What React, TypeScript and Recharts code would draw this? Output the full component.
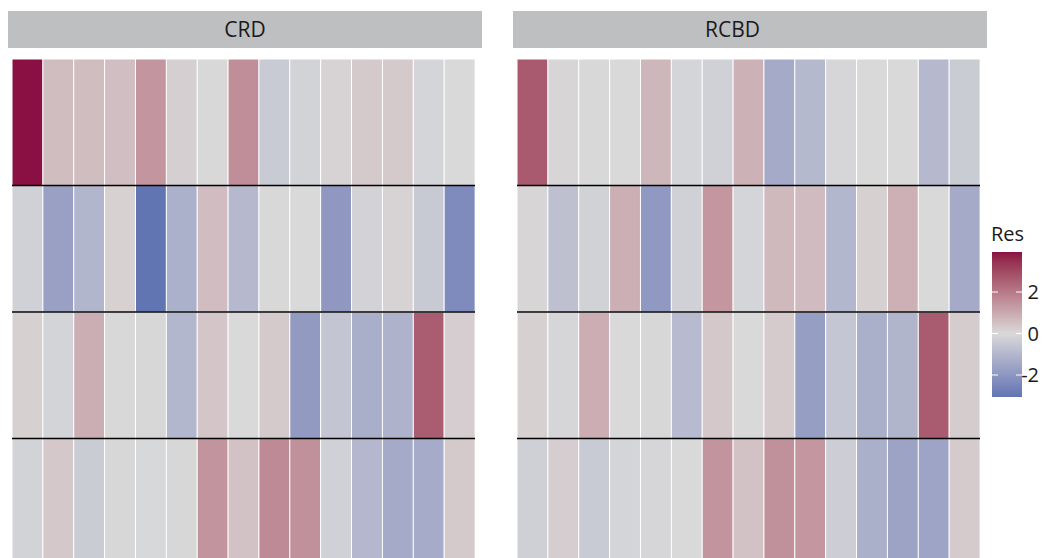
import React from "react";
import { BarChart, Bar, XAxis, YAxis, Cell, ReferenceLine } from "recharts";

// ---- data ----
const columns = ["1", "2", "3", "4", "5", "6", "7", "8", "9", "10", "11", "12", "13", "14", "15"];
const panels = ["CRD", "RCBD"];

const crdRow1 = [3.93, 0.59, 0.59, 0.55, 1.41, 0.2, 0.02, 1.57, -0.45, -0.18, 0.12, 0.33, 0.33, -0.12, 0.0];
const crdRow2 = [-0.24, -1.7, -1.03, 0.17, -3.06, -1.19, 0.57, -0.94, 0.02, 0.0, -1.93, -0.16, 0.12, -0.47, -2.35];
const crdRow3 = [0.18, -0.15, 0.9, -0.02, -0.05, -1.01, 0.41, 0.0, 0.33, -1.88, -0.57, -1.28, -1.13, 2.6, 0.25];
const crdRow4 = [-0.18, 0.35, -0.39, -0.05, -0.04, 0.05, 1.43, 0.49, 1.65, 1.51, -0.24, -0.99, -1.4, -1.37, 0.33];

const rcbdRow1 = [2.67, 0.08, 0.02, 0.0, 0.71, -0.12, -0.24, 0.84, -1.4, -0.95, -0.09, 0.0, 0.0, -0.93, -0.39];
const rcbdRow2 = [0.08, -0.72, -0.21, 0.88, -1.91, -0.24, 1.39, -0.12, 0.67, 0.61, -1.01, 0.18, 0.86, 0.0, -1.4];
const rcbdRow3 = [0.18, -0.09, 0.92, 0.0, -0.05, -0.87, 0.35, 0.0, 0.31, -1.76, -0.54, -1.25, -1.07, 2.65, 0.27];
const rcbdRow4 = [-0.27, 0.25, -0.45, -0.12, -0.09, 0.0, 1.45, 0.47, 1.51, 1.39, -0.33, -1.22, -1.61, -1.58, 0.29];

const legendTicks = [2, 0, -2];
const RES_MAX = 3.93;
const RES_MIN = -3.06;

// ---- colour scale (Lab interpolation) ----
const MID = "#d9d9d9";
const HIGH = "#8a0f42";
const LOW = "#6175b3";

function hexToRgb(h: string) {
  const n = parseInt(h.slice(1), 16);
  return [(n >> 16) & 255, (n >> 8) & 255, n & 255];
}
function toLin(c: number) {
  const s = c / 255;
  return s <= 0.04045 ? s / 12.92 : Math.pow((s + 0.055) / 1.055, 2.4);
}
function fromLin(c: number) {
  const s = c <= 0.0031308 ? 12.92 * c : 1.055 * Math.pow(c, 1 / 2.4) - 0.055;
  return Math.max(0, Math.min(255, Math.round(s * 255)));
}
const Xn = 0.95047, Yn = 1.0, Zn = 1.08883;
function f(t: number) {
  return t > 0.008856 ? Math.cbrt(t) : 7.787 * t + 16 / 116;
}
function finv(t: number) {
  return t * t * t > 0.008856 ? t * t * t : (t - 16 / 116) / 7.787;
}
function hexToLab(h: string) {
  const [r, g, b] = hexToRgb(h).map(toLin);
  const X = 0.4124 * r + 0.3576 * g + 0.1805 * b;
  const Y = 0.2126 * r + 0.7152 * g + 0.0722 * b;
  const Z = 0.0193 * r + 0.1192 * g + 0.9505 * b;
  const fx = f(X / Xn), fy = f(Y / Yn), fz = f(Z / Zn);
  return [116 * fy - 16, 500 * (fx - fy), 200 * (fy - fz)];
}
function labToHex(L: number, a: number, bb: number) {
  const fy = (L + 16) / 116;
  const fx = fy + a / 500;
  const fz = fy - bb / 200;
  const X = Xn * finv(fx), Y = Yn * finv(fy), Z = Zn * finv(fz);
  const r = 3.2406 * X - 1.5372 * Y - 0.4986 * Z;
  const g = -0.9689 * X + 1.8758 * Y + 0.0415 * Z;
  const b = 0.0557 * X - 0.204 * Y + 1.057 * Z;
  const hx = (v: number) => fromLin(v).toString(16).padStart(2, "0");
  return "#" + hx(r) + hx(g) + hx(b);
}
const labMid = hexToLab(MID);
const labHigh = hexToLab(HIGH);
const labLow = hexToLab(LOW);
function fillFor(v: number) {
  const end = v >= 0 ? labHigh : labLow;
  const t = Math.min(1, v >= 0 ? v / RES_MAX : v / RES_MIN);
  return labToHex(
    labMid[0] + (end[0] - labMid[0]) * t,
    labMid[1] + (end[1] - labMid[1]) * t,
    labMid[2] + (end[2] - labMid[2]) * t
  );
}

// ---- tables ----
function buildTable(rows: number[][]) {
  return columns.map((c, i) => ({
    col: c,
    h1: 1,
    h2: 1,
    h3: 1,
    h4: 1,
    r1: rows[0][i],
    r2: rows[1][i],
    r3: rows[2][i],
    r4: rows[3][i],
  }));
}
const crdTable = buildTable([crdRow1, crdRow2, crdRow3, crdRow4]);
const rcbdTable = buildTable([rcbdRow1, rcbdRow2, rcbdRow3, rcbdRow4]);

const FONT = "'Open Sans', 'DejaVu Sans', sans-serif";

function Panel({ data, left }: { data: any[]; left: number }) {
  // bottom row first in the stack
  const order = [4, 3, 2, 1];
  return (
    <div style={{ position: "absolute", left, top: 59 }}>
      <BarChart
        width={463}
        height={506}
        data={data}
        margin={{ top: 0, right: 0, bottom: 0, left: 0 }}
        barCategoryGap={0}
        barGap={0}
      >
        <XAxis dataKey="col" type="category" hide />
        <YAxis type="number" domain={[0, 4]} hide />
        {order.map((r) => (
          <Bar
            key={r}
            dataKey={"h" + r}
            stackId="tiles"
            stroke="#ffffff"
            strokeWidth={1}
            isAnimationActive={false}
          >
            {data.map((d, i) => (
              <Cell key={i} fill={fillFor(d["r" + r])} />
            ))}
          </Bar>
        ))}
        {[1, 2, 3].map((y) => (
          <ReferenceLine key={y} y={y} stroke="#000000" strokeWidth={1.6} />
        ))}
      </BarChart>
    </div>
  );
}

function Strip({ label, left, textCenter }: { label: string; left: number; textCenter: number }) {
  return (
    <div
      style={{
        position: "absolute",
        left,
        top: 11,
        width: 474,
        height: 37,
        background: "#bebfc1",
      }}
    >
      <span
        style={{
          position: "absolute",
          left: textCenter,
          top: 0,
          transform: "translateX(-50%)",
          lineHeight: "37px",
          fontFamily: FONT,
          fontSize: 21,
          color: "#1a1a1a",
          whiteSpace: "nowrap",
        }}
      >
        {label}
      </span>
    </div>
  );
}

function Legend() {
  const ox = 985, oy = 215;
  const barX = 992 - ox, barTop = 252 - oy, barH = 145, barW = 30;
  const yOf = (v: number) => barTop + ((RES_MAX - v) / (RES_MAX - RES_MIN)) * barH;
  const stops = [];
  const n = 60;
  for (let k = 0; k <= n; k++) {
    const v = RES_MAX - ((RES_MAX - RES_MIN) * k) / n;
    stops.push(<stop key={k} offset={`${(k / n) * 100}%`} stopColor={fillFor(v)} />);
  }
  return (
    <svg
      width={58}
      height={200}
      style={{ position: "absolute", left: ox, top: oy }}
    >
      <defs>
        <linearGradient id="resGrad" x1="0" y1="0" x2="0" y2="1">
          {stops}
        </linearGradient>
      </defs>
      <text x={991 - ox} y={241 - oy} fontFamily={FONT} fontSize={20} fill="#1a1a1a">
        Res
      </text>
      <rect x={barX} y={barTop} width={barW} height={barH} fill="url(#resGrad)" />
      {legendTicks.map((t) => (
        <g key={t}>
          <line x1={barX} x2={barX + 6} y1={yOf(t)} y2={yOf(t)} stroke="#ffffff" strokeWidth={1} />
          <line x1={barX + barW - 6} x2={barX + barW} y1={yOf(t)} y2={yOf(t)} stroke="#ffffff" strokeWidth={1} />
          <text
            x={1039 - ox}
            y={yOf(t) + 7}
            textAnchor="end"
            fontFamily={FONT}
            fontSize={20}
            fill="#1a1a1a"
          >
            {t < 0 ? "-" + Math.abs(t) : String(t)}
          </text>
        </g>
      ))}
    </svg>
  );
}

export default function App() {
  return (
    <div
      style={{
        position: "fixed",
        left: 0,
        top: 0,
        width: 1043,
        height: 558,
        overflow: "hidden",
        background: "#ffffff",
      }}
    >
      <Strip label={panels[0]} left={8} textCenter={237} />
      <Strip label={panels[1]} left={513} textCenter={219.5} />
      <Panel data={crdTable} left={12} />
      <Panel data={rcbdTable} left={517} />
      <Legend />
    </div>
  );
}
